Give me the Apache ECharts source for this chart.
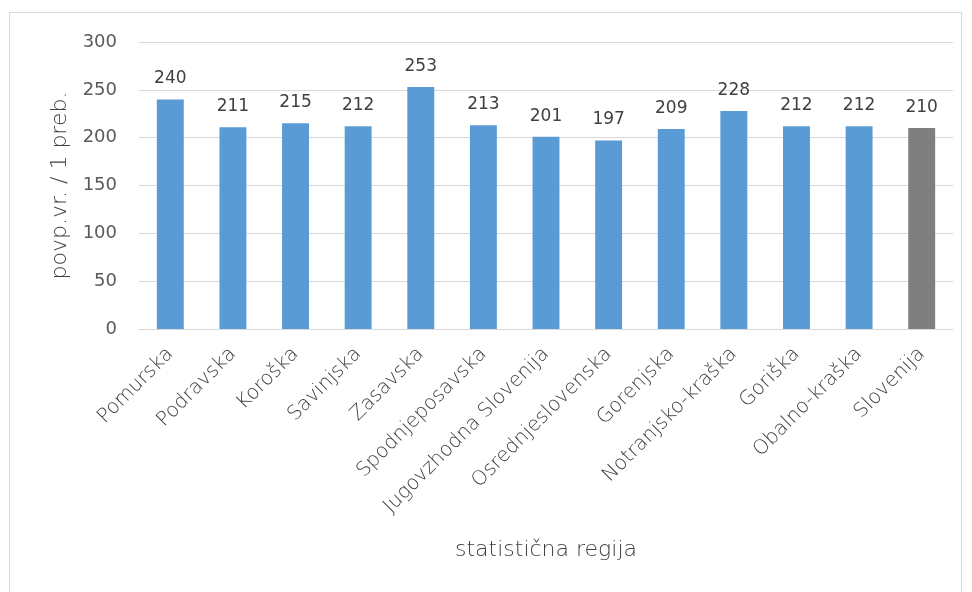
<!DOCTYPE html>
<html><head><meta charset="utf-8">
<script src="https://cdn.jsdelivr.net/npm/echarts@6/dist/echarts.min.js"></script>
<style>
html,body{margin:0;padding:0;background:#fff;}
#frame{position:absolute;left:9px;top:12px;width:953px;height:590px;border:1px solid #d9d9d9;box-sizing:border-box;}
#c{position:absolute;left:0;top:0;width:972px;height:592px;}
</style></head>
<body><div id="frame"></div><div id="c"></div>
<script>
const categories = ["Pomurska","Podravska","Koroška","Savinjska","Zasavska","Spodnjeposavska","Jugovzhodna Slovenija","Osrednjeslovenska","Gorenjska","Notranjsko-kraška","Goriška","Obalno-kraška","Slovenija"];
const values = [240,211,215,212,253,213,201,197,209,228,212,212,210];
const yTicks = [0,50,100,150,200,250,300];
const blue = '#5B9BD5', gray = '#7F7F7F';
const font = '"DejaVu Sans", sans-serif';
const chart = echarts.init(document.getElementById('c'), null, {renderer:'canvas'});
chart.setOption({
  animation:false,
  grid:{left:139,right:19,top:42,bottom:263,containLabel:false},
  xAxis:{
    type:'category', data:categories,
    axisLine:{lineStyle:{color:'#d9d9d9',width:1}},
    axisTick:{show:false},
    axisLabel:{rotate:45,color:'#404040',fontSize:20,fontWeight:200,fontFamily:font,margin:22,interval:0},
    name:'statistična regija', nameLocation:'middle', nameGap:210,
    nameTextStyle:{color:'#404040',fontSize:22,fontWeight:200,fontFamily:font}
  },
  yAxis:{
    type:'value', min:yTicks[0], max:yTicks[yTicks.length-1], interval:50,
    axisLine:{show:false}, axisTick:{show:false},
    splitLine:{lineStyle:{color:'#d9d9d9',width:1}},
    axisLabel:{color:'#595959',fontSize:18,fontFamily:font,margin:22},
    name:'povp.vr. / 1 preb.', nameLocation:'middle', nameGap:66,
    nameTextStyle:{color:'#404040',fontSize:22,fontWeight:200,fontFamily:font}
  },
  series:[{
    type:'bar', barWidth:'43%',
    data: values.map((v,i)=>({value:v,itemStyle:{color:i===values.length-1?gray:blue}})),
    label:{show:true,position:'top',distance:12,color:'#404040',fontSize:17,fontFamily:font}
  }]
});
</script></body></html>
